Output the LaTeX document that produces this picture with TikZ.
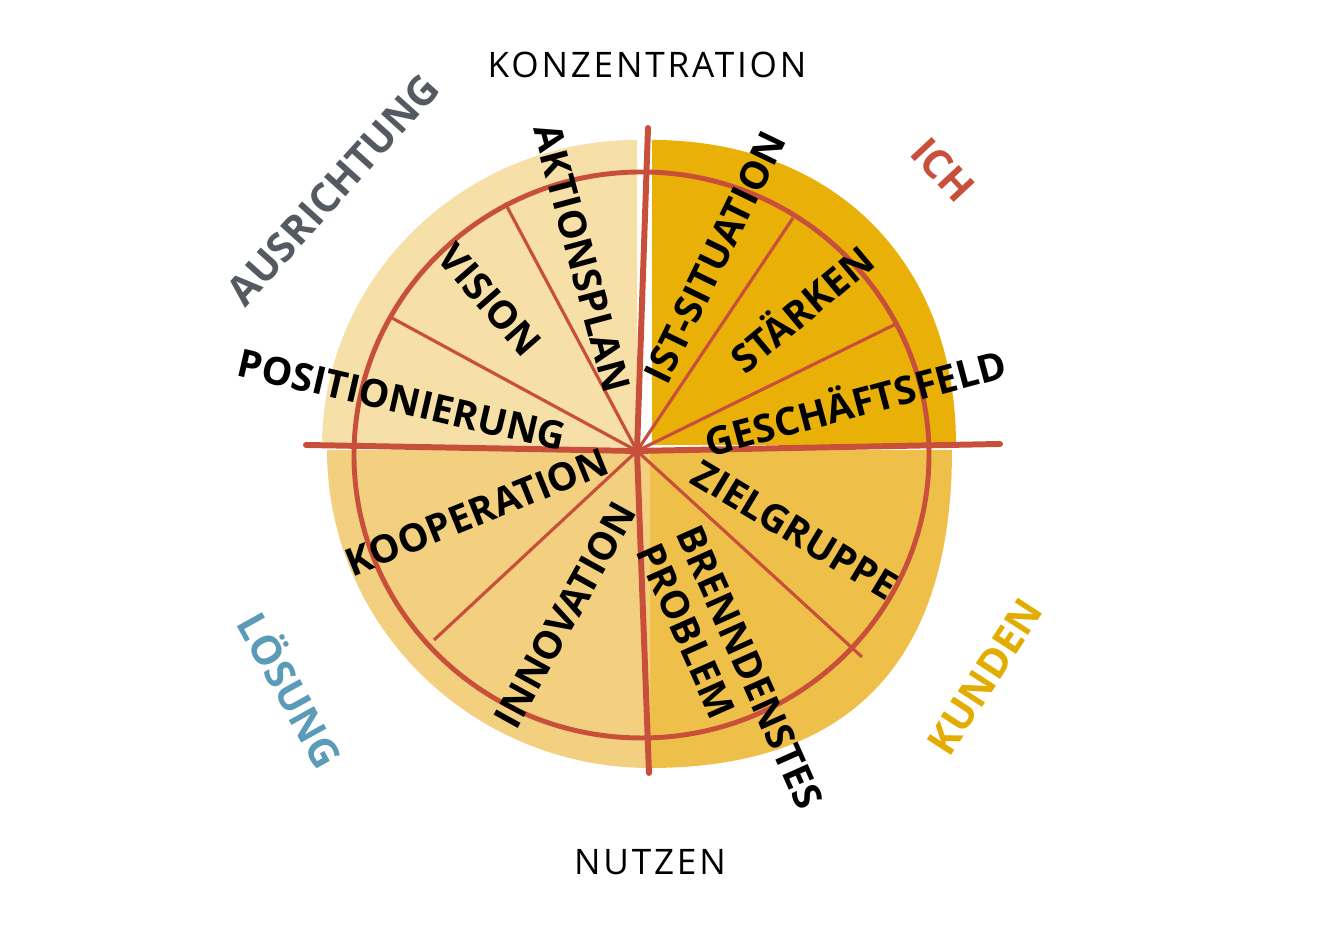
\documentclass[tikz,border=0pt]{standalone}
\usepackage{fontspec}
\setmainfont{Open Sans}

\definecolor{rot}{RGB}{200,80,58}
\definecolor{hell}{RGB}{247,223,168}
\definecolor{gold}{RGB}{233,177,8}
\definecolor{mittel}{RGB}{238,192,74}
\definecolor{sand}{RGB}{242,208,128}
\definecolor{grau}{RGB}{85,90,98}
\definecolor{blau}{RGB}{91,155,184}
\definecolor{gelb}{RGB}{226,172,0}

\begin{document}
\begin{tikzpicture}[
		begriff/.style={font=\fontsize{11}{12.2}\selectfont\bfseries, inner sep=0pt},
		ecke/.style={font=\fontsize{11.5}{14}\selectfont\bfseries, inner sep=0pt},
		achse/.style={font=\fontsize{10}{12}\selectfont\addfontfeature{LetterSpace=8}, inner sep=0pt},
		linie/.style={draw=rot, line width=1.7pt, line cap=round},
		ring/.style={draw=rot, line width=1.4pt},
		speiche/.style={draw=rot, line width=0.9pt}
	]
		\useasboundingbox (0,0) rectangle (13.21,9.28);

		% Flächen
		\fill[hell] (6.37,4.81) -- (3.22,4.81) .. controls (3.22,6.50) and (4.63,7.88) .. (6.37,7.88) -- cycle;
		\fill[gold] (6.52,4.83) -- (6.52,7.88) .. controls (8.34,7.88) and (9.56,6.66) .. (9.56,4.83) -- cycle;
		\fill[mittel] (6.50,4.78) -- (9.52,4.78) .. controls (9.52,2.68) and (8.52,1.60) .. (6.50,1.60) -- cycle;
		\fill[sand] (6.50,4.78) -- (3.27,4.78) .. controls (3.27,3.02) and (4.72,1.60) .. (6.50,1.60) -- cycle;

		\coordinate (M) at (6.37, 4.77);
		\coordinate (K) at (6.415, 4.73);
		\draw[ring] (K) ellipse (2.875 and 2.83);

		\coordinate (A) at (5.05, 7.25);
		\coordinate (B) at (3.92, 6.10);
		\coordinate (C) at (7.93, 7.10);
		\coordinate (D) at (8.98, 6.05);
		\coordinate (E) at (8.62, 2.71);
		\coordinate (F) at (4.34, 2.88);
		\draw[speiche] (M) -- (A);
		\draw[speiche] (M) -- (B);
		\draw[speiche] (M) -- (C);
		\draw[speiche] (M) -- (D);
		\draw[speiche] (M) -- (E);
		\draw[speiche] (M) -- (F);

		\coordinate (O) at (6.48, 8.00);
		\coordinate (U) at (6.49, 1.55);
		\coordinate (L) at (3.06, 4.83);
		\coordinate (R) at (10.00, 4.84);
		\draw[linie] (O) -- (M) -- (U);
		\draw[linie] (L) -- (M) -- (R);

		% Begriffe im Kreis
		\node (aktionsplan) at (5.82, 6.70) [begriff, rotate=-75] {AKTIONSPLAN};
		\node (vision) at (4.90, 6.28) [begriff, rotate=-49] {VISION};
		\node (positionierung) at (4.02, 5.28) [begriff, rotate=-13] {POSITIONIERUNG};
		\node (ist) at (7.15, 6.71) [begriff, rotate=64] {IST-SITUATION};
		\node (staerken) at (8.00, 6.21) [begriff, rotate=40] {STÄRKEN};
		\node (feld) at (8.55, 5.28) [begriff, rotate=15] {GESCHÄFTSFELD};
		\node (kooperation) at (4.77, 4.16) [begriff, rotate=22] {KOOPERATION};
		\node (innovation) at (5.65, 3.13) [begriff, rotate=61] {INNOVATION};
		\node (zielgruppe) at (7.95, 3.98) [begriff, rotate=-31] {ZIELGRUPPE};
		\node (problem) at (7.30, 2.52) [begriff, rotate=-66, align=left] {BRENNDENSTES\\PROBLEM};

		% außen
		\node (konzentration) at (6.47, 8.63) [achse] {KONZENTRATION};
		\node (nutzen) at (6.50, 0.66) [achse] {NUTZEN};
		\node (ausrichtung) at (3.33, 7.38) [ecke, grau, rotate=48] {AUSRICHTUNG};
		\node (ich) at (9.43, 7.58) [ecke, rot, rotate=-47] {ICH};
		\node (loesung) at (2.93, 2.39) [ecke, blau, rotate=-61] {LÖSUNG};
		\node (kunden) at (9.85, 2.51) [ecke, gelb, rotate=57] {KUNDEN};
	\end{tikzpicture}
\end{document}
